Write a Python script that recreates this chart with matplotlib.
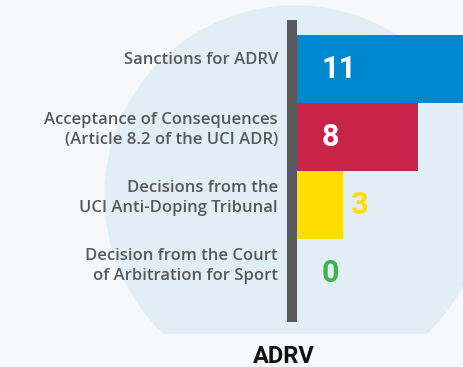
import matplotlib
matplotlib.use("Agg")
import matplotlib.pyplot as plt
from matplotlib.patches import Circle, Rectangle
from matplotlib.transforms import ScaledTranslation

# data
categories = [
    "Sanctions for ADRV",
    "Acceptance of Consequences\n(Article 8.2 of the UCI ADR)",
    "Decisions from the\nUCI Anti-Doping Tribunal",
    "Decision from the Court\nof Arbitration for Sport",
]
values = [11, 8, 3, 0]
bar_colors = ["#0088cf", "#c8244a", "#ffdd00", "#3fb549"]
title = "ADRV"

W, H = 464, 367
fig = plt.figure(figsize=(W / 100, H / 100), dpi=100)
fig.patch.set_facecolor("#f7f8f9")

# decorative background circle (pixel coordinates)
bg = fig.add_axes([0, 0, 1, 1])
bg.set_xlim(0, W)
bg.set_ylim(H, 0)
bg.axis("off")
circle = Circle((295, 196), 190, color="#e1eef6", zorder=0)
bg.add_patch(circle)
clip = Rectangle((0, 0), W, 334, transform=bg.transData)
circle.set_clip_path(clip)

# bar axes
ax = fig.add_axes([297 / W, 45 / H, 167 / W, 302 / H])
ax.patch.set_alpha(0)
ypos = list(range(len(values)))[::-1]
ax.barh(ypos, values, height=1.0, color=bar_colors)
ax.set_xlim(0, 11)
pad = 15 / 68
ax.set_ylim(-0.5 - pad, 3.5 + pad)

for side in ["top", "right", "bottom"]:
    ax.spines[side].set_visible(False)
left = ax.spines["left"]
left.set_color("#58595b")
left.set_linewidth(7.2)
left.set_capstyle("butt")
left.set_position(("outward", 3.6))
ax.set_xticks([])
ax.set_yticks(ypos)
ax.set_yticklabels(categories, fontsize=12, color="#58595b",
                   family="Open Sans", fontweight="semibold", linespacing=1.3)
ax.tick_params(axis="y", length=0, pad=10)
# labels sit a little above the bar centres in the original
shift = ScaledTranslation(0, 11 / 100, fig.dpi_scale_trans)
for lab in ax.get_yticklabels():
    lab.set_transform(lab.get_transform() + shift)

# value labels
px_per_unit = 167 / 11
min_x = 25 / px_per_unit
gap = 8 / px_per_unit
for y, v, c in zip(ypos, values, bar_colors):
    inside = v * px_per_unit > 60
    x = max(v + gap, min_x) if not inside else min_x
    ax.text(x, y, str(v), ha="left", va="center", fontsize=22,
            fontweight="bold", family="Roboto",
            color="white" if inside else c)

fig.text(284 / W, (H - 363) / H, title, ha="center", va="baseline",
         fontsize=17, fontweight="bold", family="Roboto", color="#111111")

fig.savefig("out.png", dpi=100, facecolor=fig.get_facecolor())
